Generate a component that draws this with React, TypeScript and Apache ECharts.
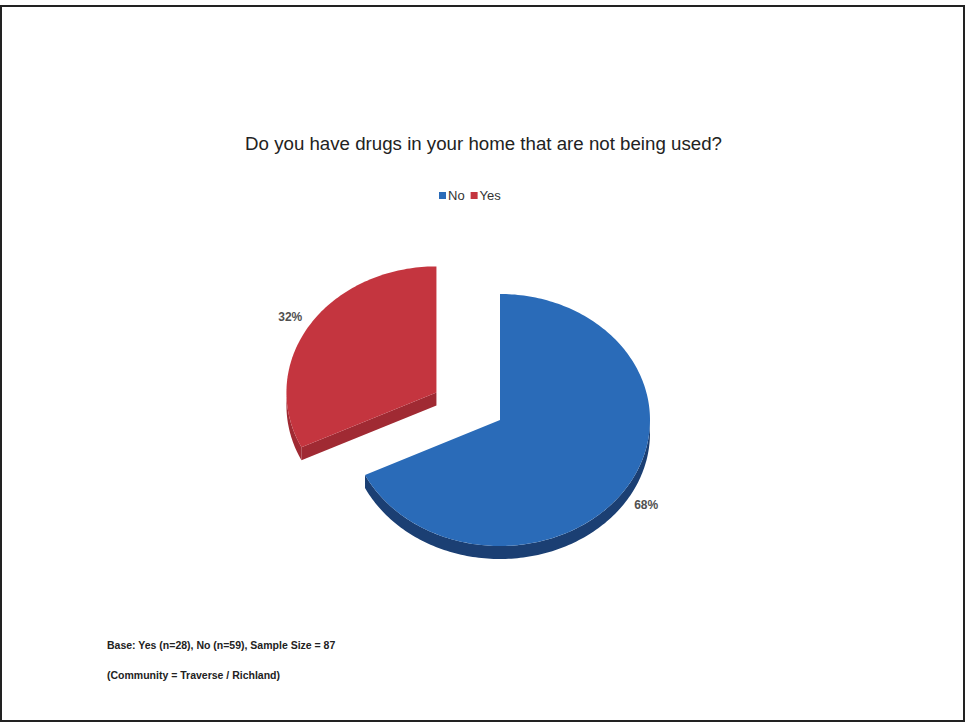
import React, { useEffect, useRef } from "react";
import * as echarts from "echarts";

const categories = ["No", "Yes"];
const values = [59, 28];
const topColors = ["#2a6bb8", "#c4353f"];
const sideColors = ["#1b3f73", "#a02a33"];
const titleText = "Do you have drugs in your home that are not being used?";
const footnotes = [
  "Base: Yes (n=28), No (n=59), Sample Size = 87",
  "(Community = Traverse / Richland)",
];
const explodedIndex = 1;

const CX = 500;
const CY = 420;
const RX = 150;
const RY = 126;
const DEPTH = 13;

function pt(cx: number, cy: number, a: number): number[] {
  return [cx + RX * Math.sin(a), cy - RY * Math.cos(a)];
}

function arcPts(cx: number, cy: number, a0: number, a1: number): number[][] {
  const n = Math.max(2, Math.ceil(Math.abs(a1 - a0) / 0.02));
  const out: number[][] = [];
  for (let i = 0; i <= n; i++) out.push(pt(cx, cy, a0 + ((a1 - a0) * i) / n));
  return out;
}

function makeRender(index: number) {
  return function (_params: any, api: any) {
    const total = values.reduce((s, v) => s + v, 0);
    const before = values.slice(0, index).reduce((s, v) => s + v, 0);
    const v = api.value(0);
    const a0 = (before / total) * Math.PI * 2;
    const a1 = ((before + v) / total) * Math.PI * 2;
    const mid = (a0 + a1) / 2;
    let cx = CX;
    let cy = CY;
    if (index === explodedIndex) {
      cx += Math.sin(mid) * 75;
      cy += -Math.cos(mid) * 52;
    }
    const children: any[] = [];
    const side = sideColors[index];
    if (Math.sin(a0) < 0) {
      const p = pt(cx, cy, a0);
      children.push({
        type: "polygon",
        shape: { points: [[cx, cy], p, [p[0], p[1] + DEPTH], [cx, cy + DEPTH]] },
        style: { fill: side },
      });
    }
    if (Math.sin(a1) > 0) {
      const p = pt(cx, cy, a1);
      children.push({
        type: "polygon",
        shape: { points: [[cx, cy], p, [p[0], p[1] + DEPTH], [cx, cy + DEPTH]] },
        style: { fill: side },
      });
    }
    const w0 = Math.max(a0, Math.PI / 2);
    const w1 = Math.min(a1, (Math.PI * 3) / 2);
    if (w1 > w0) {
      const top = arcPts(cx, cy, w0, w1);
      const bottom = top.map((p) => [p[0], p[1] + DEPTH]).reverse();
      children.push({
        type: "polygon",
        shape: { points: top.concat(bottom) },
        style: { fill: side },
      });
    }
    children.push({
      type: "polygon",
      shape: { points: [[cx, cy]].concat(arcPts(cx, cy, a0, a1)) },
      style: { fill: topColors[index] },
    });
    const pct = Math.round((v / total) * 100) + "%";
    children.push({
      type: "text",
      x: cx + Math.sin(mid) * RX * 1.15,
      y: cy - Math.cos(mid) * RY * 1.2 + 5,
      style: {
        text: pct,
        fill: "#505050",
        fontSize: 12,
        fontWeight: "bold",
        fontFamily: "Liberation Sans, Arial, sans-serif",
        align: "center",
        verticalAlign: "middle",
      },
    });
    return { type: "group", children };
  };
}

export default function App() {
  const ref = useRef<HTMLDivElement>(null);
  useEffect(() => {
    if (!ref.current) return;
    const chart = echarts.init(ref.current, null, { renderer: "svg" });
    const series = categories.map((name, i) => ({
      type: "custom",
      name,
      coordinateSystem: "none",
      itemStyle: { color: topColors[i] },
      data: [[values[i]]],
      renderItem: makeRender(i),
      z: i === explodedIndex ? 1 : 2,
    }));
    chart.setOption({
      animation: false,
      backgroundColor: "#ffffff",
      title: {
        text: titleText,
        left: "center",
        top: 129,
        textStyle: {
          fontSize: 18.7,
          fontWeight: "normal",
          color: "#222",
          fontFamily: "Liberation Sans, Arial, sans-serif",
        },
      },
      legend: {
        data: categories,
        left: 434,
        top: 184,
        icon: "rect",
        itemWidth: 7,
        itemHeight: 7,
        itemGap: 6,
        textStyle: {
          fontSize: 13,
          color: "#333",
          padding: [0, 0, 0, -3],
          fontFamily: "Liberation Sans, Arial, sans-serif",
        },
      },
      graphic: [
        {
          type: "rect",
          shape: { x: 1, y: 6, width: 963, height: 715 },
          style: { fill: "none", stroke: "#222", lineWidth: 2 },
          silent: true,
        },
        ...footnotes.map((t, i) => ({
          type: "text",
          left: 107,
          top: 639 + i * 30,
          style: {
            text: t,
            fontSize: 10.5,
            fontWeight: "bold",
            fill: "#222",
            fontFamily: "Liberation Sans, Arial, sans-serif",
          },
        })),
      ],
      series,
    });
    return () => chart.dispose();
  }, []);
  return (
    <div
      ref={ref}
      style={{ position: "fixed", left: 0, top: 0, width: 967, height: 723 }}
    />
  );
}
